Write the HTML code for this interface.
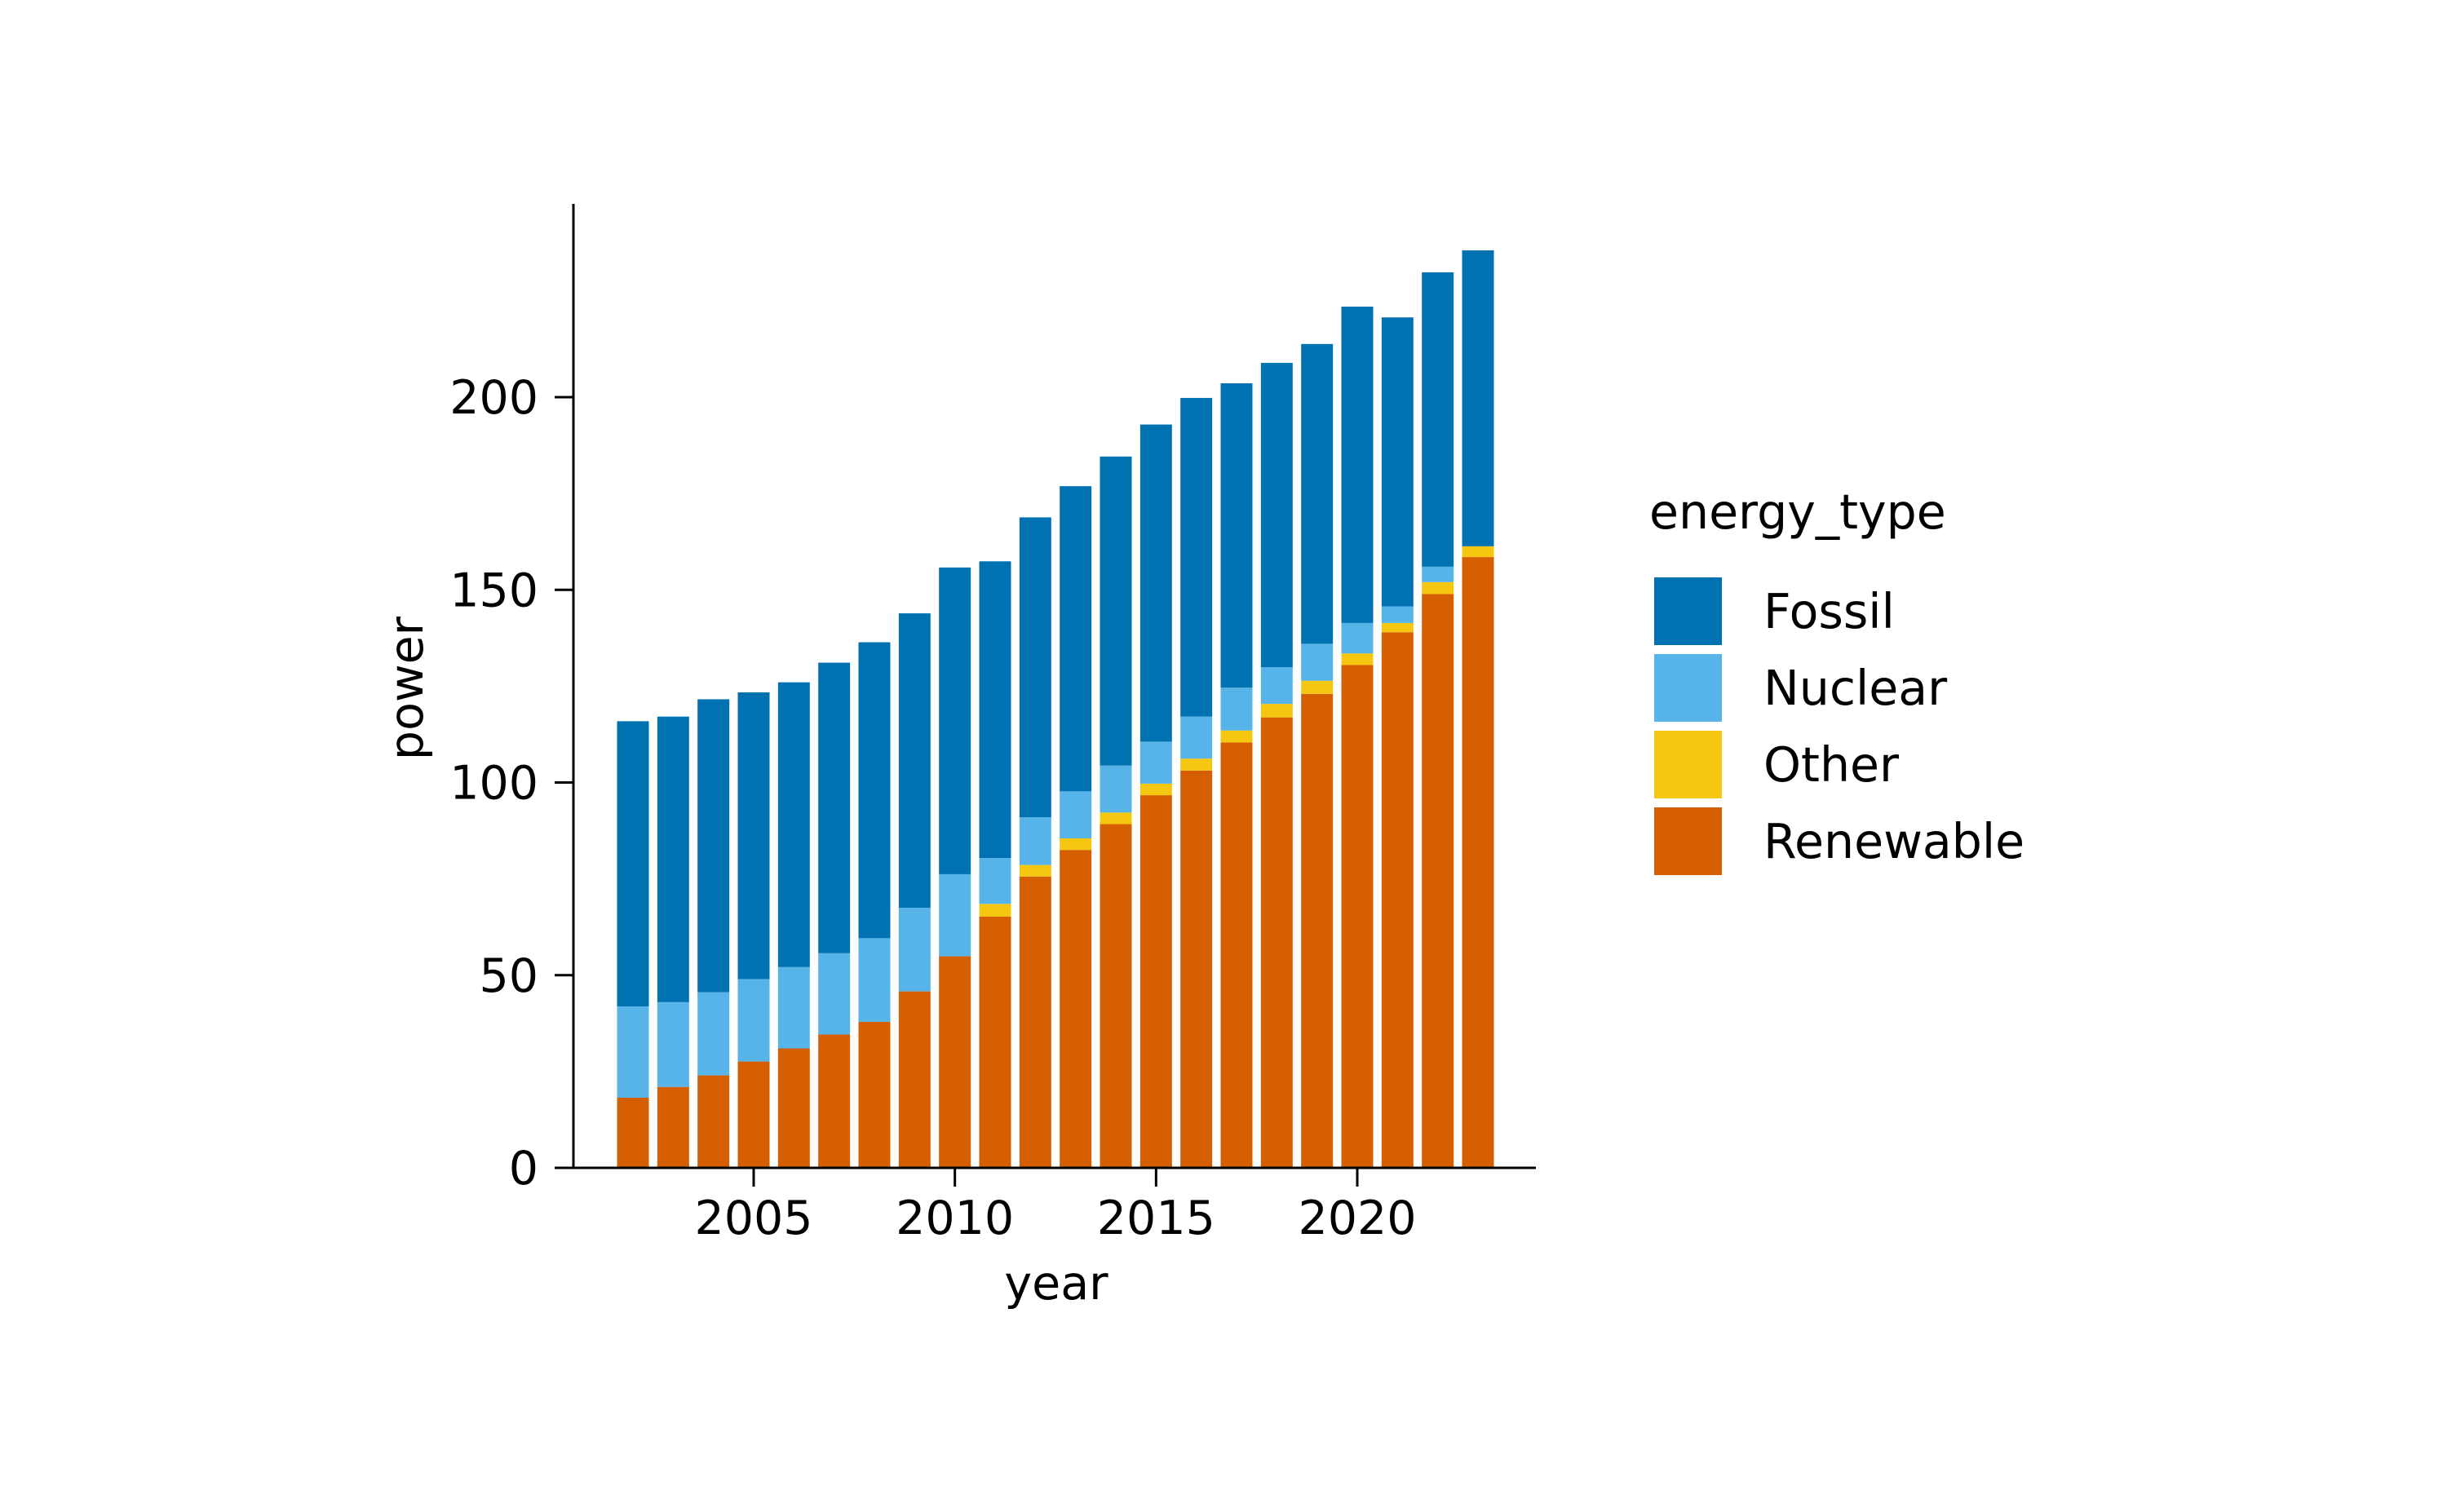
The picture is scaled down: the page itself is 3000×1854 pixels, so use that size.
<!DOCTYPE html>
<html><head><meta charset="utf-8">
<style>
html,body{margin:0;padding:0;background:#fff;}
svg{display:block;font-family:"DejaVu Sans","Liberation Sans",sans-serif;}
</style></head>
<body>
<svg id="chart" width="3000" height="1854" viewBox="0 0 3000 1854" xmlns="http://www.w3.org/2000/svg">
<rect width="3000" height="1854" fill="#fff"/>
<g id="bars"></g>
<g id="axes"></g>
<g id="legend"></g>
</svg>
<script>
const years = [2002,2003,2004,2005,2006,2007,2008,2009,2010,2011,2012,2013,2014,2015,2016,2017,2018,2019,2020,2021,2022,2023];
const renewable = [18.2,21,24,27.6,31,34.6,37.9,45.8,54.9,65.2,75.6,82.5,89.2,96.7,103.1,110.4,116.9,123,130.5,139,148.9,158.5];
const other = [0,0,0,0,0,0,0,0,0,3.3,3,3,3,3,3.1,3.1,3.5,3.4,3,2.4,3.1,2.8];
const nuclear = [23.7,22,21.6,21.4,21.1,21.1,21.7,21.7,21.3,11.9,12.4,12.2,12.2,10.9,10.9,11.1,9.5,9.6,7.9,4.3,4,0];
const fossil = [74,74.1,76,74.4,73.9,75.4,76.8,76.4,79.6,77,77.8,79.2,80.2,82.3,82.7,79,79,77.8,82.1,75,76.4,76.8];
const yTicks = [0,50,100,150,200];
const xTicks = [2005,2010,2015,2020];
const seriesNames = ["Fossil","Nuclear","Other","Renewable"];
const seriesColors = ["#0072B2","#56B4E9","#F5C710","#D55E00"];

const NS="http://www.w3.org/2000/svg";
const X0=703, Y0=1432, PXU=(1432-487)/200, PXY=(1664-924)/15;
const xs = y => 924 + (y-2005)*PXY;
const ys = v => Y0 - v*PXU;
const barW = 0.79*PXY;
function mk(tag, attrs, parent){const e=document.createElementNS(NS,tag);for(const k in attrs)e.setAttribute(k,attrs[k]);parent.appendChild(e);return e;}
const bars=document.getElementById('bars');
const stackOrder=[[renewable,3,'renewable'],[other,2,'other'],[nuclear,1,'nuclear'],[fossil,0,'fossil']];
years.forEach((yr,i)=>{
  let base=0;
  stackOrder.forEach(([arr,ci,nm])=>{
    const v=arr[i];
    if(v>0){
      const r=mk('rect',{x:xs(yr)-barW/2,y:ys(base+v),width:barW,height:v*PXU,fill:seriesColors[ci]},bars);
      
      
    }
    base+=v;
  });
});
const axes=document.getElementById('axes');
let l=mk('line',{x1:X0,y1:250,x2:X0,y2:Y0,stroke:'#000','stroke-width':3},axes);


l=mk('line',{x1:X0,y1:Y0,x2:1883,y2:Y0,stroke:'#000','stroke-width':3},axes);


yTicks.forEach(t=>{
  const tk=mk('line',{x1:X0-23,y1:ys(t),x2:X0,y2:ys(t),stroke:'#000','stroke-width':3},axes);
  
  
  const tx=mk('text',{x:660,y:ys(t)+20,'font-size':57,'text-anchor':'end',fill:'#000'},axes);
  tx.textContent=t;
  
  
});
xTicks.forEach(t=>{
  const tk=mk('line',{x1:xs(t),y1:Y0,x2:xs(t),y2:Y0+23,stroke:'#000','stroke-width':3},axes);
  
  
  const tx=mk('text',{x:xs(t),y:1513,'font-size':57,'text-anchor':'middle',fill:'#000'},axes);
  tx.textContent=t;
  
  
});
let t=mk('text',{x:1295,y:1593,'font-size':57,'text-anchor':'middle'},axes);
t.textContent='year';


t=mk('text',{x:0,y:0,'font-size':57,'text-anchor':'middle',transform:'translate(518,844) rotate(-90)'},axes);
t.textContent='power';


const lg=document.getElementById('legend');
t=mk('text',{x:2022,y:648,'font-size':58.5},lg);
t.textContent='energy_type';


const rowsY=[708,802,896,990];
seriesNames.forEach((n,i)=>{
  const r=mk('rect',{x:2028,y:rowsY[i],width:83,height:83,fill:seriesColors[i]},lg);
  
  
  const tx=mk('text',{x:2162,y:rowsY[i]+62,'font-size':58.5},lg);
  tx.textContent=n;
  
  
});
</script>
</body></html>
